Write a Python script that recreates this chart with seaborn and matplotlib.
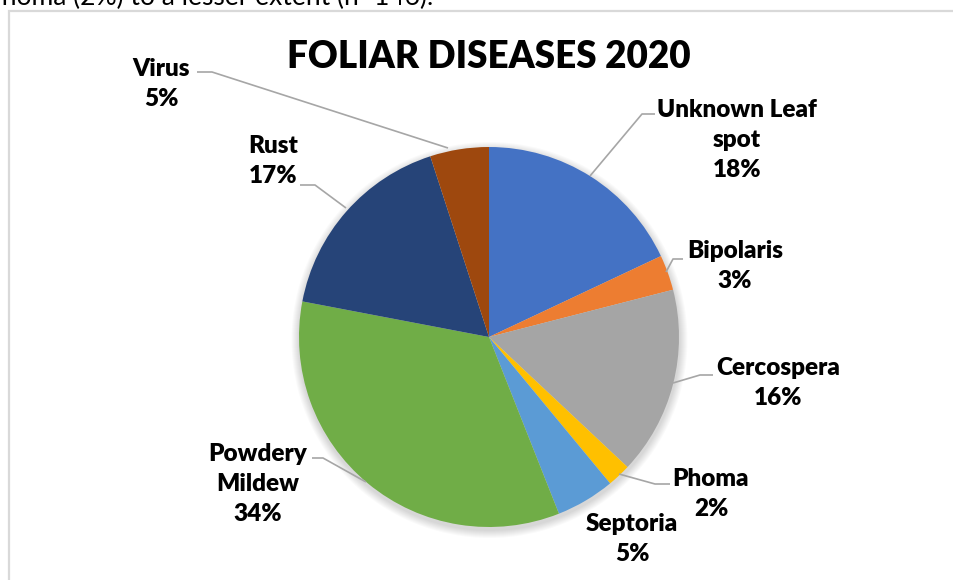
import matplotlib
matplotlib.use("Agg")
import matplotlib.pyplot as plt
import seaborn as sns
from matplotlib.patches import Circle

# Foliar disease shares, clockwise from 12 o'clock
diseases = ["Unknown Leaf\nspot", "Bipolaris", "Cercospera", "Phoma",
            "Septoria", "Powdery\nMildew", "Rust", "Virus"]
shares = [18, 3, 16, 2, 5, 34, 17, 5]
slice_colors = ["#4472C4", "#ED7D31", "#A5A5A5", "#FFC000",
                "#5B9BD5", "#70AD47", "#264478", "#9E480E"]
title_text = "FOLIAR DISEASES 2020"
caption_text = "Phoma (2%) to a lesser extent (n=146)."

sns.set_theme(style="white")
plt.rcParams["font.family"] = ["Lato", "DejaVu Sans"]

W, H = 954, 580
fig = plt.figure(figsize=(W / 100, H / 100), dpi=100)
ax = fig.add_axes([0, 0, 1, 1])


def py(y):
    """Convert a top-down pixel row into the axes' y coordinate."""
    return H - y


cx, cy, r = 489, py(337), 190

# soft drop shadow under the pie
for k in range(8):
    ax.add_patch(Circle((cx + 0.5, cy - 3), r + 1 + k, color="black",
                        alpha=0.018, lw=0, zorder=1))

palette = sns.color_palette(slice_colors)
wedges, _ = ax.pie(shares, colors=palette, startangle=90, counterclock=False,
                   radius=r, center=(cx, cy), frame=True,
                   wedgeprops=dict(linewidth=0, zorder=2))
ax.set_xlim(0, W)
ax.set_ylim(0, H)
ax.set_aspect("equal")
ax.axis("off")

# label block centre (px) and leader polyline (px) for each slice
label_pos = [(737, 140), (735, 266), (778, 383), (711, 494),
             (632, 539), (258, 484), (273, 161), (161, 84)]
leaders = [
    [(655, 114), (642, 114), (590, 176)],
    [(683, 259), (673, 259), (666, 272)],
    [(713, 375), (700, 375), (673, 383)],
    [(670, 484), (655, 484), (619, 474)],
    None,
    [(312, 458), (323, 458), (366, 482)],
    [(300, 185), (315, 185), (346, 208)],
    [(197, 72), (212, 72), (448, 148)],
]

for name, val, (lx, ly), lead in zip(diseases, shares, label_pos, leaders):
    ax.text(lx, py(ly), f"{name}\n{val}%", ha="center", va="center",
            fontsize=17.5, fontweight="heavy", color="black",
            linespacing=1.45, zorder=5)
    if lead:
        xs = [p[0] for p in lead]
        ys = [py(p[1]) for p in lead]
        ax.plot(xs, ys, color="#A6A6A6", lw=1.2, zorder=4,
                solid_capstyle="butt")

ax.text(489, py(57), title_text, ha="center", va="center",
        fontsize=26.5, fontweight="heavy", color="black", zorder=5)

# chart frame
ax.plot([9.5, 9.5, 953], [0, py(11), py(11)], color="#D9D9D9", lw=1.6,
        zorder=3, solid_joinstyle="miter")

# running text from the surrounding page
ax.text(433, py(5), caption_text, ha="right", va="baseline",
        fontsize=19, color="black", zorder=5)

fig.savefig("out.png", dpi=100, facecolor="white")
